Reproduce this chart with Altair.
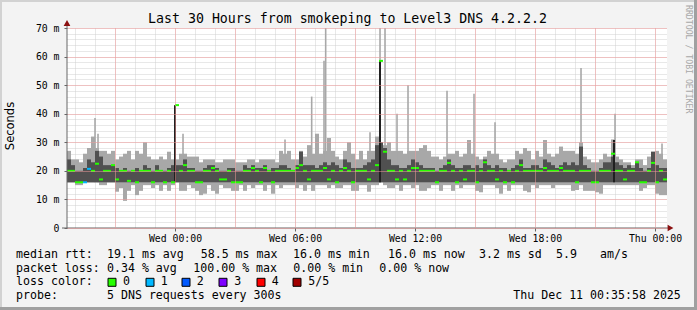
import altair as alt
import pandas as pd

# ---------------- data ----------------
TITLE = "Last 30 Hours from smokeping to Level3 DNS 4.2.2.2"
START_MIN = 18 * 60 + 35 + 58 / 60   # Tue 18:35:58, minutes since Tue 00:00
STEP_MIN = 12                        # one sample bucket = 12 minutes
SPAN_MIN = 1800                      # 30 hours

# light smoke (full ping range), ms
SMOKE_LO = [16, 16, 15, 15, 16, 16, 16, 16, 15, 15,
            16, 16, 12.7, 14, 9.5, 13, 15, 11.5, 13, 15,
            15, 14, 15, 13, 15, 13, 15, 16, 13, 13,
            15, 14, 13, 11.5, 12, 15, 13, 12, 15, 14,
            14, 13, 13, 15, 13, 15, 14, 15, 15, 13,
            15, 12, 15, 14, 15, 15, 15, 14, 15, 13,
            15, 13, 15, 15, 15, 14, 15, 14, 14, 15,
            15, 13, 13, 15, 15, 12.7, 15, 15, 16, 15,
            14, 14, 15, 13, 15, 15, 14, 15, 13, 13,
            14, 15, 15, 13, 15, 15, 13, 15, 14, 15,
            15, 15, 13, 12.5, 15, 15, 15, 14, 12, 15,
            13, 15, 15, 15, 13, 12.5, 15, 14, 15, 15,
            15, 14, 15, 15, 15, 15, 13, 13.3, 15, 13,
            13, 13, 12.5, 12, 15, 15, 15, 15, 15, 15,
            15, 15, 15, 13, 14, 15, 15, 12, 11.5, 11.5]
SMOKE_HI = [27, 24, 24, 23, 26, 28, 32, 28, 27, 27,
            26, 27, 24, 25, 26, 27, 24, 27, 26, 30,
            25, 24, 24, 25, 24, 26.7, 24, 24, 26, 26,
            25, 25, 25, 23, 24, 24, 24, 23, 23, 24,
            24, 24, 23, 23, 23, 24, 24, 23, 24, 24,
            24, 24, 23, 27, 26, 27, 24, 24, 27, 25,
            29, 26, 33, 26, 27, 31.5, 27, 25, 24, 27,
            30, 26, 24, 27, 24, 27, 27, 32, 30, 29,
            30, 27, 27, 27, 26, 27, 27, 27, 28, 29,
            27, 25, 25, 24, 25, 26, 26, 27, 25, 26,
            30.8, 26, 25, 24, 25, 27, 26, 26, 24, 23,
            24, 24, 27, 26, 28, 27, 24, 27, 25, 30.8,
            26, 25, 26, 28.5, 27, 27, 27, 26, 30, 25,
            24, 23, 23, 24, 26, 25, 31, 25, 24, 23,
            23, 22, 24, 24, 22, 25, 26.7, 27, 26, 24]
# dark smoke (central pings), from the 16 ms floor up to this value
DARK_FLOOR = 16.0
DARK_HI = [24, 22, 20, 20, 21, 24, 23, 27, 25, 22,
           22, 22, 21, 20, 21, 20, 20, 21, 20, 22,
           21, 20, 22, 20, 20, 21, 22, 22, 22, 24,
           21, 21, 20, 20, 21, 22, 22, 21, 20, 20,
           21, 21, 20, 20, 22, 21, 22, 21, 21, 22,
           20, 21, 21, 22, 22, 21, 20, 22, 26.7, 22,
           22, 22, 21, 22, 23, 22, 23, 22, 21, 24,
           23, 21, 21, 21, 22, 23, 24, 29, 30, 28,
           24, 22, 22, 21, 21, 22, 24, 23, 22, 21,
           21, 21, 20, 21, 22, 24, 22, 21, 21, 22,
           22, 21, 22, 21, 24, 22, 21, 22, 21, 21,
           20, 21, 22, 24, 21, 21, 22, 22, 21, 24,
           23, 22, 21, 22, 23, 22, 23, 22, 28.5, 22,
           21, 20, 20, 21, 23, 23, 25, 23, 22, 21,
           22, 21, 23, 21, 20, 21, 26.7, 22, 21, 21]
MEDIAN = [20, 20, 16, 16, 16, 20.7, 20, 22.5, 17, 20,
          20, 22, 17, 20, 20, 16.5, 20, 16, 20, 20,
          20, 16, 20, 20, 16, 20, 16, 43, 20, 22,
          20, 20, 16, 16, 20, 20, 21, 20, 17, 17,
          20, 16, 16, 16, 20, 20, 21, 20, 16, 21,
          20, 16, 20, 20, 20, 20, 20, 21, 22, 20,
          17, 20, 20, 20, 21, 17, 20, 16, 20, 21,
          20, 16, 20, 20, 20, 17, 20, 22, 58.5, 26.7,
          20, 20, 17, 20, 17, 20, 21, 21, 20, 20,
          20, 20, 16, 20, 20, 22.8, 20, 16, 20, 17,
          20, 20, 16, 20, 23, 20, 20, 17, 20, 16,
          20, 16, 20, 22, 20, 20, 20, 20, 20, 21,
          20, 20, 20, 21, 20, 20, 20, 16, 20, 20,
          20, 16, 16, 20, 20, 20, 26, 20, 20, 17,
          20, 20, 23, 16, 16, 20, 22.8, 16, 20, 17]
LOSS_AT = {4: 1, 5: 1}   # bucket index -> lost pings (all others 0)

# single-sample outliers (thin light-smoke spikes): minute of day, top in ms
SPIKE_T = [1200, 1209, 1464, 1770, 1850, 1887, 1892, 2025, 2055, 2070,
           2106, 2139, 2256, 2337, 2400, 2658, 2760, 2901]
SPIKE_TOP = [38.5, 33, 33, 31, 46, 58.5, 70, 33.5, 70, 70,
             40, 50, 48, 47, 37, 56, 40, 29.6]
# single-sample dark spikes (central pings high)
DSPIKE_T = [1440, 2055, 2757]
DSPIKE_TOP = [43, 58.5, 30.8]

LOSS_LABELS = ["0", "1", "2", "3", "4", "5/5"]
LOSS_COLORS = ["#26ff00", "#00b8ff", "#0059ff", "#7e00ff", "#ff0000", "#a10000"]

HOUR_TICKS = list(range(1140, 2881, 60))
RED_TICKS = list(range(1260, 2881, 180))
LABEL_TICKS = [1440, 1800, 2160, 2520, 2880]
LABEL_TEXT = ["Wed 00:00", "Wed 06:00", "Wed 12:00", "Wed 18:00", "Thu 00:00"]
Y_MINOR = list(range(0, 71, 2))
Y_MAJOR = list(range(0, 71, 10))

LEGEND_ROWS = [
    (254.7, [(16, "median rtt:"), (107, "19.1 ms avg"), (200.7, "58.5 ms max"),
             (293, "16.0 ms min"), (388, "16.0 ms now"), (479, "3.2 ms sd"),
             (556, "5.9"), (600, "am/s")]),
    (268.7, [(16, "packet loss:"), (107, "0.34 % avg"), (193.3, "100.00 % max"),
             (293.3, "0.00 % min"), (379.3, "0.00 % now")]),
    (282.3, [(16, "loss color:")]),
    (296.0, [(16, "probe:"), (107, "5 DNS requests every 300s"),
             (513.3, "Thu Dec 11 00:35:58 2025")]),
]
SWATCH_X = [108, 146, 182, 219, 257, 293]
SWATCH_LABEL_X = [123, 160.7, 196.7, 234.3, 271.7, 308.3]

# ---------------- layout ----------------
X0, Y0 = 67, 28          # plot origin on the canvas
W, H = 600, 200
MONO = "DejaVu Sans Mono"
LIGHT = "#a8a8a8"
DARK = "#505050"

n = len(MEDIAN)
df = pd.DataFrame({
    "t0": [START_MIN + STEP_MIN * i for i in range(n)],
    "t1": [START_MIN + STEP_MIN * (i + 1) for i in range(n)],
    "lo": SMOKE_LO, "hi": SMOKE_HI,
    "dlo": [DARK_FLOOR] * n, "dhi": DARK_HI,
    "med": MEDIAN,
    "loss": [LOSS_LABELS[LOSS_AT.get(i, 0)] for i in range(n)],
})
spikes = pd.DataFrame({"t": SPIKE_T, "top": SPIKE_TOP, "base": [DARK_FLOOR] * len(SPIKE_T)})
dspikes = pd.DataFrame({"t": DSPIKE_T, "top": DSPIKE_TOP, "base": [DARK_FLOOR] * len(DSPIKE_T)})

XS = alt.Scale(domain=[START_MIN, START_MIN + SPAN_MIN], nice=False, zero=False)
YS = alt.Scale(domain=[0, 70], nice=False)

ax_x_minor = alt.Axis(orient="bottom", values=HOUR_TICKS, grid=True, gridColor="#d0d0d0",
                      gridDash=[1, 1], labels=False, ticks=False, domain=False, title=None)
ax_y_minor = alt.Axis(orient="left", values=Y_MINOR, grid=True, gridColor="#d0d0d0",
                      gridDash=[1, 1], labels=False, ticks=False, domain=False, title=None)
ax_x_major = alt.Axis(orient="bottom", values=RED_TICKS, grid=True, gridColor="#f59a9a",
                      gridDash=[1, 1], labels=False, ticks=False, domain=False, title=None, zindex=1)
ax_y_major = alt.Axis(orient="left", values=Y_MAJOR, grid=True, gridColor="#f59a9a",
                      gridDash=[1, 1], labels=False, ticks=False, domain=False, title=None, zindex=1)
lab_expr = "[" + ",".join("'%s'" % s for s in LABEL_TEXT) + "][indexof([" + \
    ",".join(str(v) for v in LABEL_TICKS) + "], datum.value)]"
ax_x_lab = alt.Axis(orient="bottom", values=LABEL_TICKS, grid=False, domain=False, ticks=True,
                    tickSize=3, tickColor="#666666", labelExpr=lab_expr, labelFont=MONO,
                    labelFontSize=9.8, labelColor="#000000", labelPadding=2, title=None, zindex=1)
ax_y_lab = alt.Axis(orient="left", values=Y_MAJOR, grid=False, domain=False, ticks=True, tickSize=3,
                    tickColor="#666666", labelExpr="datum.value == 0 ? '0' : datum.value + ' m'",
                    labelFont=MONO, labelFontSize=9.8, labelColor="#000000", labelPadding=5,
                    title=None, zindex=1)

light = alt.Chart(df).mark_rect(color=LIGHT).encode(
    x=alt.X("t0:Q", scale=XS, axis=ax_x_minor), x2="t1",
    y=alt.Y("lo:Q", scale=YS, axis=ax_y_minor), y2="hi")
light_spk = alt.Chart(spikes).mark_rule(color=LIGHT, strokeWidth=1.6).encode(
    x=alt.X("t:Q", scale=XS, axis=None), y=alt.Y("base:Q", scale=YS, axis=None), y2="top")
dark = alt.Chart(df).mark_rect(color=DARK).encode(
    x=alt.X("t0:Q", scale=XS, axis=ax_x_major), x2="t1",
    y=alt.Y("dlo:Q", scale=YS, axis=ax_y_major), y2="dhi")
dark_spk = alt.Chart(dspikes).mark_rule(color="#202020", strokeWidth=2).encode(
    x=alt.X("t:Q", scale=XS, axis=None), y=alt.Y("base:Q", scale=YS, axis=None), y2="top")
median = alt.Chart(df).mark_rule(strokeWidth=2).encode(
    x=alt.X("t0:Q", scale=XS, axis=ax_x_lab), x2="t1",
    y=alt.Y("med:Q", scale=YS, axis=ax_y_lab),
    color=alt.Color("loss:N", scale=alt.Scale(domain=LOSS_LABELS, range=LOSS_COLORS), legend=None))

ONE = pd.DataFrame({"k": [0]})


def rule(x, x2, y, y2, color, width):
    return alt.Chart(ONE).mark_rule(color=color, strokeWidth=width).encode(
        x=alt.value(x - X0), x2=alt.value(x2 - X0), y=alt.value(y - Y0), y2=alt.value(y2 - Y0))


def txt(s, x, y, size=11.6, color="#000000", font=MONO, angle=0, align="left"):
    return alt.Chart(ONE).mark_text(text=s, font=font, fontSize=size, color=color, align=align,
                                    baseline="middle", angle=angle).encode(
        x=alt.value(x - X0), y=alt.value(y - Y0))


deco = []
# axis lines and arrows
deco.append(rule(67, 67, 22, 228, "#666666", 1))
deco.append(rule(62, 669, 228, 228, "#666666", 1))
deco.append(alt.Chart(ONE).mark_point(shape="triangle-up", filled=True, size=45, color="#8b1010",
                                      opacity=1).encode(x=alt.value(0), y=alt.value(23 - Y0)))
deco.append(alt.Chart(ONE).mark_point(shape="triangle-right", filled=True, size=45, color="#8b1010",
                                      opacity=1).encode(x=alt.value(670.5 - X0), y=alt.value(228 - Y0)))
# frame
deco.append(rule(0, 697, 1, 1, "#d2d2d2", 2))
deco.append(rule(1, 1, 0, 310, "#d2d2d2", 2))
deco.append(rule(0, 697, 308.5, 308.5, "#a0a0a0", 3))
deco.append(rule(695.5, 695.5, 0, 310, "#a0a0a0", 3))
# titles
deco.append(txt(TITLE, 347.5, 19, size=13.25, align="center"))
deco.append(txt("Seconds", 10.8, 126, size=11.5, font="DejaVu Sans", angle=270, align="center"))
deco.append(txt("RRDTOOL / TOBI OETIKER", 688, 5, size=8.2, color="#a8a8a8", angle=90))
# legend
for y, segs in LEGEND_ROWS:
    for x, s in segs:
        deco.append(txt(s, x, y))
for sx, lx, lab, col in zip(SWATCH_X, SWATCH_LABEL_X, LOSS_LABELS, LOSS_COLORS):
    deco.append(alt.Chart(ONE).mark_rect(fill=col, stroke="#000000", strokeWidth=1).encode(
        x=alt.value(sx - X0), x2=alt.value(sx + 8 - X0),
        y=alt.value(278.3 - Y0), y2=alt.value(286.3 - Y0)))
    deco.append(txt(lab, lx, 282.3))

chart = alt.layer(light, light_spk, dark, dark_spk, median, *deco).resolve_axis(
    x="independent", y="independent"
).properties(
    width=W, height=H, autosize="none",
    padding={"left": X0, "top": Y0, "right": 697 - X0 - W, "bottom": 310 - Y0 - H},
    background="#f3f3f3",
).configure_view(fill="white", stroke=None)

chart.save("out.html", embed_options={"renderer": "svg", "actions": False})
